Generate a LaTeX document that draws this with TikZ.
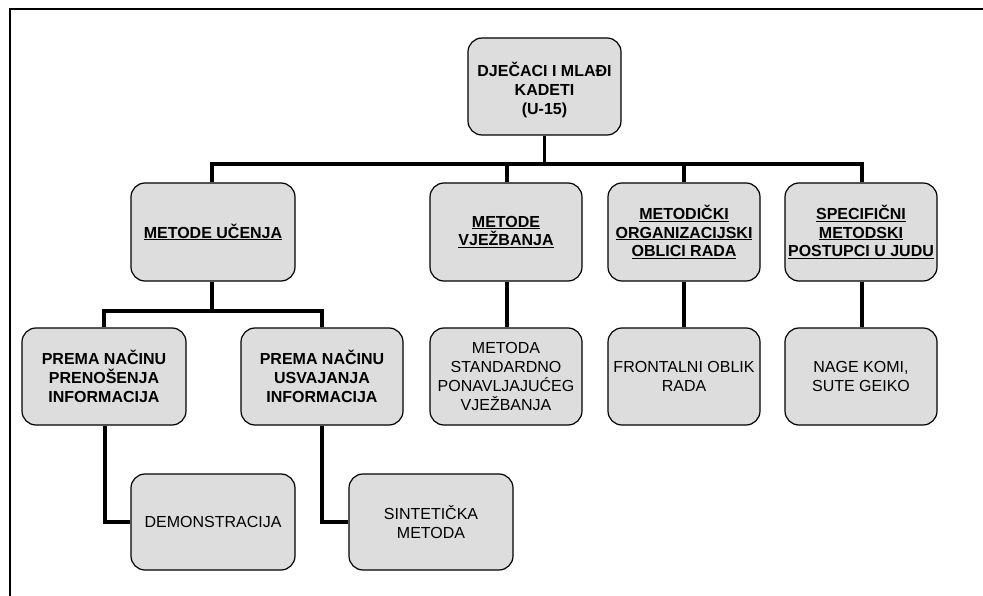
\documentclass[tikz,border=0pt]{standalone}
\usepackage{fontspec}
\setmainfont{Liberation Sans}
\definecolor{boxgray}{RGB}{221,221,221}
\newcommand{\ulx}[1]{\underline{#1}}
\begin{document}
\begin{tikzpicture}[x=1pt,y=-1pt,
  box/.style={draw=black, line width=1.2pt, fill=boxgray, rounded corners=14pt,
    inner sep=0pt, align=center, font=\fontsize{16}{18.8}\selectfont},
  boxb/.style={box, font=\fontsize{16}{18.8}\selectfont\bfseries},
  conn/.style={draw=black, line width=3.5pt, line join=miter},
  frame/.style={draw=black, line width=1.2pt}]
\useasboundingbox (0,0) rectangle (983,596);
% frame
\draw[frame] (983,9) -- (10,9) -- (10,596);
% nodes
\node[boxb, minimum width=153pt, minimum height=97pt] (root) at (544.5,86.5)
  {\rule{0pt}{21pt}DJEČACI I MLAĐI\\KADETI\\(U-15)};
\node[boxb, minimum width=164pt, minimum height=98pt] (m1) at (213,232) {\ulx{METODE UČENJA}};
\node[boxb, minimum width=152pt, minimum height=98pt] (m2) at (506,232) {\ulx{METODE}\\\ulx{VJEŽBANJA}};
\node[boxb, minimum width=152pt, minimum height=98pt] (m3) at (684,232) {\ulx{METODIČKI}\\\ulx{ORGANIZACIJSKI}\\\ulx{OBLICI RADA}};
\node[boxb, minimum width=152pt, minimum height=98pt] (m4) at (861,232) {\ulx{SPECIFIČNI}\\\ulx{METODSKI}\\\ulx{POSTUPCI U JUDU}};
\node[boxb, minimum width=164pt, minimum height=97pt] (p1) at (104,376.5) {PREMA NAČINU\\PRENOŠENJA\\INFORMACIJA};
\node[boxb, minimum width=162pt, minimum height=97pt] (p2) at (322,376.5) {PREMA NAČINU\\USVAJANJA\\INFORMACIJA};
\node[box, minimum width=152pt, minimum height=97pt] (s2) at (506,376.5) {METODA\\STANDARDNO\\PONAVLJAJUĆEG\\VJEŽBANJA};
\node[box, minimum width=152pt, minimum height=97pt] (s3) at (684,376.5) {FRONTALNI OBLIK\\RADA};
\node[box, minimum width=152pt, minimum height=97pt] (s4) at (861,376.5) {NAGE KOMI,\\SUTE GEIKO};
\node[box, minimum width=164pt, minimum height=96pt] (d1) at (213,522) {DEMONSTRACIJA};
\node[box, minimum width=164pt, minimum height=96pt] (d2) at (431,522) {SINTETIČKA\\METODA};
% coordinates
\coordinate (bus) at (545,164);
\coordinate (sub) at (212,311);
% connectors
\draw[conn] (root.south) -- (root.south |- bus);
\draw[conn] ([xshift=-1pt]m1.north) |- (bus) -| ([xshift=1pt]m4.north);
\draw[conn] ([xshift=1pt]m2.north) -- ([xshift=1pt]m2.north |- bus);
\draw[conn] (m3.north) -- (m3.north |- bus);
\draw[conn] ([xshift=-1pt]m1.south) -- (sub);
\draw[conn] (p1.north) |- (sub) -| (p2.north);
\draw[conn] ([xshift=1pt]m2.south) -- ([xshift=1pt]s2.north);
\draw[conn] (m3.south) -- (s3.north);
\draw[conn] ([xshift=1pt]m4.south) -- ([xshift=1pt]s4.north);
\draw[conn] ([xshift=1pt]p1.south) |- (d1.west);
\draw[conn] (p2.south) |- (d2.west);
\end{tikzpicture}
\end{document}
